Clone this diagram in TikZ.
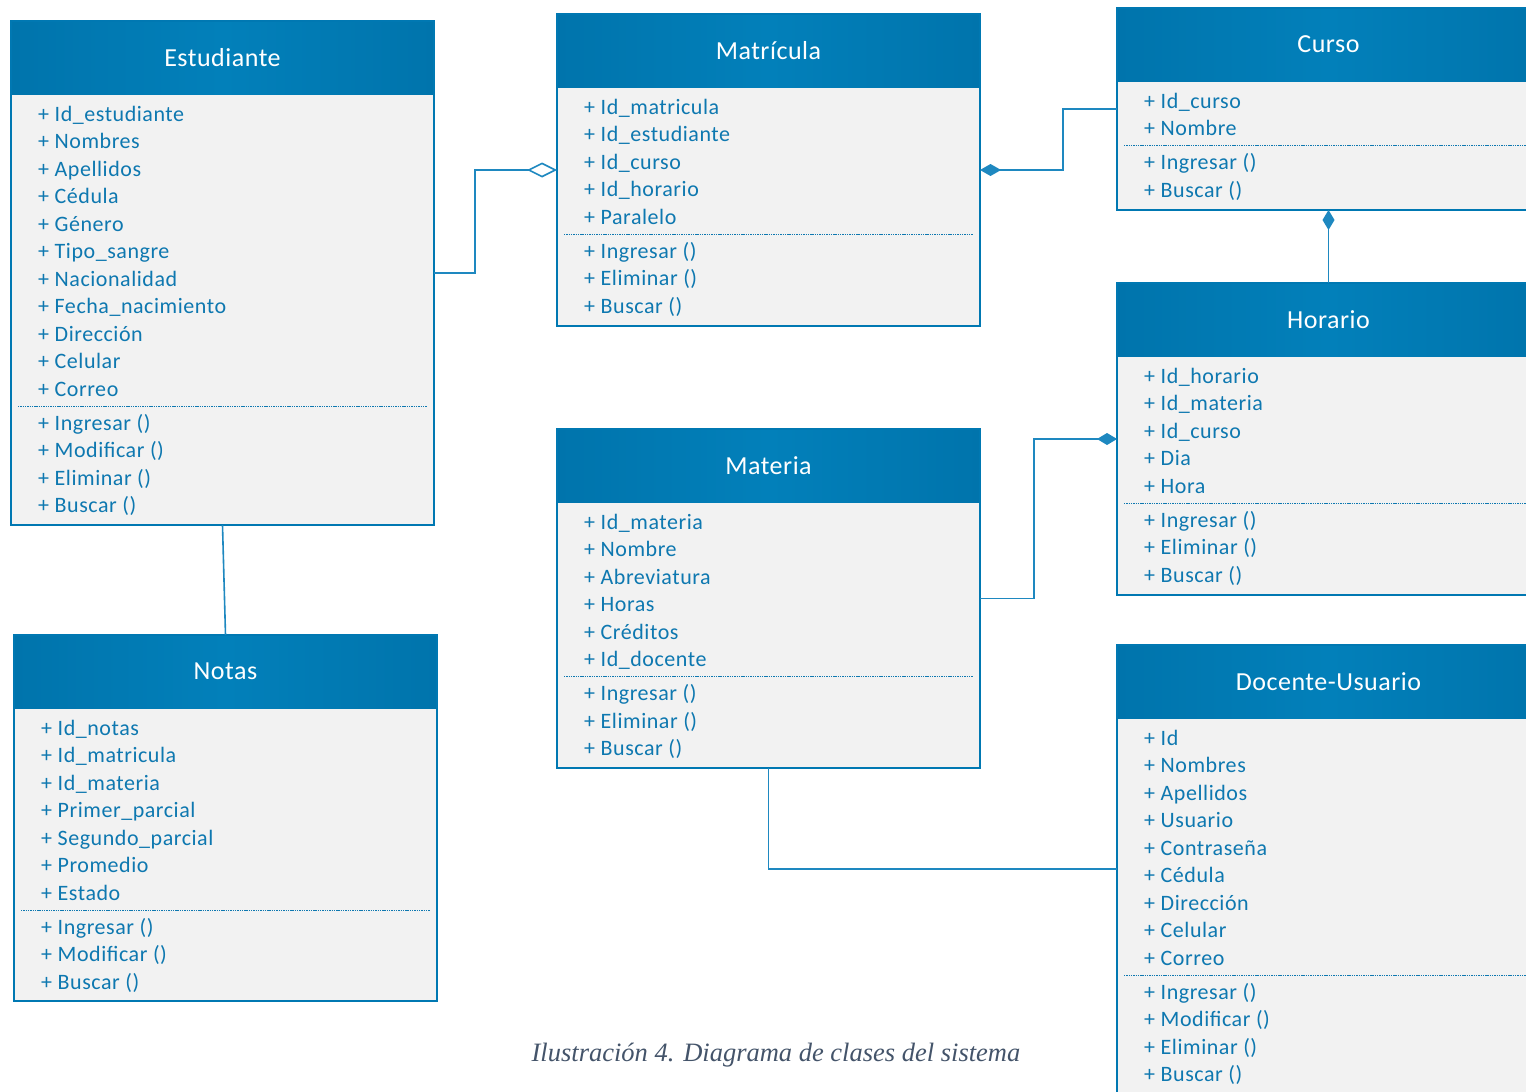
\documentclass[tikz,border=0pt]{standalone}
\usepackage{fontspec}
\setmainfont{Carlito}
\newfontfamily\spacedfont[LetterSpace=2.5]{Carlito}
\newfontfamily\titlefont[LetterSpace=2]{Carlito}
\newfontfamily\capfont{Liberation Serif}
\usetikzlibrary{arrows.meta}
\definecolor{hdrblue}{RGB}{2,128,186}
\definecolor{hdrdark}{RGB}{0,116,172}
\definecolor{edgeblue}{RGB}{0,120,178}
\definecolor{txtblue}{RGB}{14,120,176}
\definecolor{bodygray}{RGB}{242,242,242}
\definecolor{connblue}{RGB}{30,136,192}
\definecolor{capgray}{RGB}{68,84,106}
\tikzset{
 classbox/.style={fill=bodygray, minimum width=423pt, inner sep=0pt, outer sep=0pt, anchor=north west},
 classhead/.style={left color=hdrdark, right color=hdrdark, middle color=hdrblue, minimum width=423pt, minimum height=73pt, inner sep=0pt, outer sep=0pt, anchor=north west, text=white, font=\titlefont\fontsize{26}{30}\selectfont},
 member/.style={anchor=base west, inner sep=0pt, text=txtblue, font=\spacedfont\fontsize{22}{26}\selectfont},
 sepline/.style={draw=txtblue, line width=0.9pt, dash pattern=on 1.4pt off 0.9pt},
 conn/.style={draw=connblue, line width=1.6pt},
 boxedge/.style={draw=edgeblue, line width=2.2pt},
}
% name, x, ytop, height, title, n attrs, attrs, methods
\newcommand\umlclass[8]{%
 \node[classbox, minimum height=#4pt] (#1) at (#2,#3) {};
 \node[classhead] (#1-h) at (#2,#3) {#5};
 \foreach \t [count=\i from 0] in {#7}{\node[member] (#1-a\i) at (#2+27,#3+100+\i*27.5) {\t};}
 \draw[sepline] (#2+7,#3+93+#6*27.5-27.5+17) -- (#2+416,#3+93+#6*27.5-27.5+17);
 \foreach \t [count=\i from 0] in {#8}{\node[member] (#1-m\i) at (#2+27,#3+100+#6*27.5-27.5+34+\i*27.6) {\t};}
 \draw[boxedge] (#1.north west) rectangle (#1.south east);
}
\begin{document}
\begin{tikzpicture}[x=1pt,y=-1pt]
\path[use as bounding box, clip] (0,0) rectangle (1526,1092);
\fill[white] (0,0) rectangle (1526,1092);

\umlclass{est}{11}{21}{504}{Estudiante}{11}{+ Id\_estudiante,+ Nombres,+ Apellidos,+ Cédula,+ Género,+ Tipo\_sangre,+ Nacionalidad,+ Fecha\_nacimiento,+ Dirección,+ Celular,+ Correo}{+ Ingresar (),+ Modificar (),+ Eliminar (),+ Buscar ()}
\umlclass{mat}{557}{14}{312}{Matrícula}{5}{+ Id\_matricula,+ Id\_estudiante,+ Id\_curso,+ Id\_horario,+ Paralelo}{+ Ingresar (),+ Eliminar (),+ Buscar ()}
\umlclass{cur}{1117}{8}{202}{Curso}{2}{+ Id\_curso,+ Nombre}{+ Ingresar (),+ Buscar ()}
\umlclass{hor}{1117}{283}{312}{Horario}{5}{+ Id\_horario,+ Id\_materia,+ Id\_curso,+ Dia,+ Hora}{+ Ingresar (),+ Eliminar (),+ Buscar ()}
\umlclass{mate}{557}{429}{339}{Materia}{6}{+ Id\_materia,+ Nombre,+ Abreviatura,+ Horas,+ Créditos,+ Id\_docente}{+ Ingresar (),+ Eliminar (),+ Buscar ()}
\umlclass{not}{14}{635}{366}{Notas}{7}{+ Id\_notas,+ Id\_matricula,+ Id\_materia,+ Primer\_parcial,+ Segundo\_parcial,+ Promedio,+ Estado}{+ Ingresar (),+ Modificar (),+ Buscar ()}
\umlclass{doc}{1117}{645}{448}{Docente-Usuario}{9}{+ Id,+ Nombres,+ Apellidos,+ Usuario,+ Contraseña,+ Cédula,+ Dirección,+ Celular,+ Correo}{+ Ingresar (),+ Modificar (),+ Eliminar (),+ Buscar ()}

\draw[conn, {Diamond[open, length=30pt, width=15pt, line width=1.6pt]}-] (mat.west) -- ++(-82,0) |- (est.east);
\draw[conn, {Diamond[length=21pt, width=12pt]}-] (mat.east) -- ++(83,0) |- (cur.west);
\draw[conn, {Diamond[length=20pt, width=12pt]}-] (cur.south) -- (hor.north);
\draw[conn, {Diamond[length=20pt, width=12pt]}-] (hor.west) -- ++(-83,0) |- (mate.east);
\draw[conn] (est.south) -- (not.north);
\draw[conn] (mate.south) |- (doc.west);

\node[font=\capfont\itshape\fontsize{26.5}{30}\selectfont, text=capgray, inner sep=0pt] (cap) at (776,1055) {Ilustración 4. Diagrama de clases del sistema};
\end{tikzpicture}
\end{document}
